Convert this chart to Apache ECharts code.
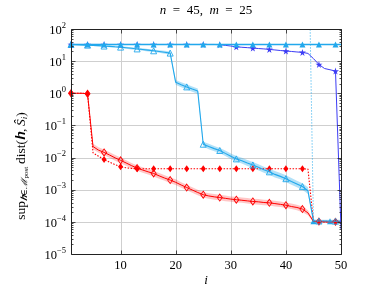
<!DOCTYPE html>
<html><head><meta charset="utf-8">
<script src="https://cdn.jsdelivr.net/npm/echarts@6/dist/echarts.min.js"></script>
<style>html,body{margin:0;padding:0;background:#fff}#c{width:380px;height:291px}</style>
</head><body><div id="c"></div>
<script>
// ---------- data ----------
const iValues = [1,2,3,4,5,6,7,8,9,10,11,12,13,14,15,16,17,18,19,20,21,22,23,24,25,26,27,28,29,30,31,32,33,34,35,36,37,38,39,40,41,42,43,44,45,46,47,48,49,50];
const xTickValues = [10,20,30,40,50];
const yExponents = [-5,-4,-3,-2,-1,0,1,2];

// light blue, filled triangles (flat)
const flatTri = [33,33,33,33,33,33,33,33,33,33,33,33,33,33,33,33,33,33,33,33,33,33,33,33,33,33,33,33,33,33,33,33,33,33,33,33,33,33,33,33,33,33,33,33,33,33,33,33,33,33];
// blue, stars
const starVals = [33,33,33,33,33,33,33,33,33,33,33,33,33,33,33,33,33,33,33,33,33,33,33,33,33,33,33,32.5,31,29.5,28,27,26.3,25.5,24.7,24,23.2,22.3,21.4,20.6,20,19.3,18.7,17.4,12,7.9,5.9,5.4,4.9,0.00006];
// light blue, hollow triangles (mean and band)
const triMean = [33,32.5,32,31.5,31,30.3,29.5,28.8,28,27.3,26.2,25.1,24,23,22,21,20,19,17.8,2.2,1.85,1.58,1.35,1.17,0.026,0.022,0.019,0.0166,0.0135,0.011,0.0091,0.008,0.0068,0.0059,0.005,0.0042,0.0036,0.003,0.0026,0.0022,0.0018,0.0015,0.00125,0.00093,0.000107,0.000106,0.000106,0.000105,0.000105,0.000105];
const triHigh = [34,33.6,33.2,32.8,32.4,31.8,31.2,30.6,29.9,29.2,28.2,27.1,26,25,24,23,22,21,19.8,2.6,2.2,1.9,1.62,1.4,0.031,0.027,0.023,0.02,0.0165,0.0135,0.0112,0.0098,0.0084,0.0073,0.0062,0.0052,0.0045,0.0038,0.0033,0.0028,0.0023,0.0019,0.0016,0.0012,0.000118,0.000116,0.000116,0.000116,0.000116,0.000116];
const triLow = [32,31.4,30.8,30.2,29.6,28.8,27.9,27.1,26.2,25.5,24.3,23.2,22.1,21.1,20.1,19.1,18.1,17.1,16,1.85,1.55,1.32,1.12,0.97,0.022,0.018,0.0157,0.0138,0.0111,0.009,0.0074,0.0065,0.0055,0.0048,0.004,0.0034,0.0029,0.0024,0.0021,0.00175,0.00143,0.00119,0.00099,0.00073,0.000097,0.000095,0.000095,0.000095,0.000095,0.000095];
// red, hollow diamonds (mean and band)
const redMean = [1,1,1,0.97,0.022,0.017,0.0145,0.012,0.0098,0.0082,0.0068,0.0056,0.0047,0.0041,0.0036,0.0032,0.0027,0.0023,0.002,0.0017,0.0014,0.00117,0.00098,0.00082,0.0007,0.00064,0.0006,0.00057,0.00054,0.00051,0.00049,0.00047,0.00045,0.00043,0.00042,0.0004,0.00039,0.00037,0.00035,0.00033,0.0003,0.00028,0.00025,0.00019,0.000104,0.000102,0.000101,0.0001,0.0001,0.0001];
const redHigh = [1.04,1.04,1.04,1.01,0.027,0.021,0.0178,0.0147,0.012,0.01,0.0083,0.0068,0.0057,0.005,0.0044,0.0039,0.0033,0.0028,0.0024,0.0021,0.0017,0.00143,0.0012,0.001,0.00085,0.00078,0.00073,0.0007,0.00066,0.00062,0.0006,0.00057,0.00055,0.00052,0.00051,0.00049,0.00048,0.00045,0.00043,0.0004,0.00037,0.00034,0.0003,0.00023,0.000112,0.00011,0.00011,0.00011,0.00011,0.00011];
const redLow = [0.96,0.96,0.96,0.93,0.018,0.014,0.0119,0.0098,0.008,0.0067,0.0056,0.0046,0.0039,0.0034,0.003,0.0026,0.0022,0.0019,0.0016,0.0014,0.00115,0.00096,0.0008,0.00067,0.00057,0.00052,0.00049,0.00047,0.00044,0.00042,0.0004,0.00039,0.00037,0.00035,0.00034,0.00033,0.00032,0.0003,0.00029,0.00027,0.00025,0.00023,0.0002,0.00016,0.000097,0.000093,0.000093,0.000093,0.000093,0.000093];
// red, dotted, filled diamonds
const redDotted = [1,1,1,0.97,0.014,0.011,0.0087,0.0072,0.006,0.0052,0.0048,0.0046,0.0045,0.0045,0.0045,0.0045,0.0045,0.0045,0.0045,0.0045,0.0045,0.0045,0.0045,0.0045,0.0045,0.0045,0.0045,0.0045,0.0045,0.0045,0.0045,0.0045,0.0045,0.0045,0.0045,0.0045,0.0045,0.0045,0.0045,0.0045,0.0045,0.0045,0.0045,0.0044,0.000102,0.0001,0.0001,0.0001,0.0001,0.0001];
// light blue, dotted (off the chart until i = 44)
const cyanDotted = [1e6,1e6,1e6,1e6,1e6,1e6,1e6,1e6,1e6,1e6,1e6,1e6,1e6,1e6,1e6,1e6,1e6,1e6,1e6,1e6,1e6,1e6,1e6,1e6,1e6,1e6,1e6,1e6,1e6,1e6,1e6,1e6,1e6,1e6,1e6,1e6,1e6,1e6,1e6,1e6,1e6,1e6,1e6,1e6,0.000105,0.000105,0.000105,0.000105,0.000105,0.000105];

// ---------- styles ----------
const C_LB = '#22a8ec';
const C_B = '#3c3cf5';
const C_R = '#ff0000';
const FONT = '"Liberation Serif", "DejaVu Serif", serif';
const STAR = 'path://M50,0 L61,35 L98,35 L68,57 L79,91 L50,70 L21,91 L32,57 L2,35 L39,35 Z';
const X_MIN = 1, X_MAX = 50, Y_MIN = 1e-5, Y_MAX = 100;

function pts(vals, offset) {
  return iValues.map((x, k) => {
    const it = { value: [x, vals[k]] };
    if (((x - offset) % 3 + 3) % 3 !== 0) it.symbol = 'none';
    return it;
  });
}
function bandRender(lo, hi, fill) {
  return function (params, api) {
    const p = [];
    for (let k = 0; k < iValues.length; k++) p.push(api.coord([iValues[k], hi[k]]));
    for (let k = iValues.length - 1; k >= 0; k--) p.push(api.coord([iValues[k], lo[k]]));
    return { type: 'polygon', shape: { points: p }, style: { fill: fill }, silent: true };
  };
}
function px(v) { return Math.round(v) + 0.5; }
function gridRender(params, api) {
  const ch = [];
  const tl = api.coord([X_MIN, Y_MAX]), br = api.coord([X_MAX, Y_MIN]);
  const st = { stroke: '#cfcfcf', lineWidth: 1 };
  xTickValues.forEach(v => {
    const x = px(api.coord([v, Y_MIN])[0]);
    ch.push({ type: 'line', shape: { x1: x, y1: tl[1], x2: x, y2: br[1] }, style: st });
  });
  yExponents.forEach(e => {
    const y = px(api.coord([X_MIN, Math.pow(10, e)])[1]);
    ch.push({ type: 'line', shape: { x1: tl[0], y1: y, x2: br[0], y2: y }, style: st });
  });
  return { type: 'group', children: ch, silent: true };
}
function decorRender(params, api) {
  const ch = [];
  const tl = api.coord([X_MIN, Y_MAX]), br = api.coord([X_MAX, Y_MIN]);
  const x0 = px(tl[0]), x1 = px(br[0]), y0 = px(tl[1]), y1 = px(br[1]);
  const st = { stroke: '#222', lineWidth: 0.8 };
  yExponents.forEach(e => {
    const y = px(api.coord([X_MIN, Math.pow(10, e)])[1]);
    ch.push({ type: 'line', shape: { x1: x0, y1: y, x2: x0 + 4, y2: y }, style: st });
    ch.push({ type: 'line', shape: { x1: x1 - 4, y1: y, x2: x1, y2: y }, style: st });
    if (e < 2) {
      for (let m = 2; m <= 9; m++) {
        const ym = px(api.coord([X_MIN, m * Math.pow(10, e)])[1]);
        ch.push({ type: 'line', shape: { x1: x0, y1: ym, x2: x0 + 2, y2: ym }, style: st });
        ch.push({ type: 'line', shape: { x1: x1 - 2, y1: ym, x2: x1, y2: ym }, style: st });
      }
    }
  });
  xTickValues.forEach(v => {
    const x = px(api.coord([v, Y_MIN])[0]);
    ch.push({ type: 'line', shape: { x1: x, y1: y1, x2: x, y2: y1 - 4 }, style: st });
    ch.push({ type: 'line', shape: { x1: x, y1: y0, x2: x, y2: y0 + 4 }, style: st });
  });
  ch.push({ type: 'rect', shape: { x: x0, y: y0, width: x1 - x0, height: y1 - y0 }, style: { stroke: '#222', lineWidth: 1, fill: null } });
  return { type: 'group', children: ch, silent: true };
}

const chart = echarts.init(document.getElementById('c'), null, { renderer: 'canvas' });
chart.setOption({
  animation: false,
  backgroundColor: '#fff',
  grid: { left: 71, right: 39, top: 29, bottom: 37, containLabel: false },
  xAxis: {
    type: 'value', min: X_MIN, max: X_MAX,
    axisLine: { show: false }, axisTick: { show: false }, splitLine: { show: false },
    axisLabel: { customValues: xTickValues, fontFamily: FONT, fontSize: 12.5, color: '#000', margin: 5 }
  },
  yAxis: {
    type: 'log', logBase: 10, min: Y_MIN, max: Y_MAX,
    axisLine: { show: false }, axisTick: { show: false }, splitLine: { show: false },
    axisLabel: {
      margin: 5, color: '#000',
      formatter: v => '{b|10}{s|' + String(Math.round(Math.log10(v))).replace('-', '\u2212') + '}',
      rich: {
        b: { fontFamily: FONT, fontSize: 12.5, color: '#000', lineHeight: 16, verticalAlign: 'bottom' },
        s: { fontFamily: FONT, fontSize: 8.5, color: '#000', lineHeight: 16, verticalAlign: 'top' }
      }
    }
  },
  graphic: [
    { type: 'text', x: 206, y: 11, silent: true,
      style: { text: '{i|n}\u2002=\u200245,\u2002{i|m}\u2002=\u200225', align: 'center', verticalAlign: 'middle',
        font: '13px ' + FONT, fill: '#000',
        rich: { i: { fontStyle: 'italic', fontFamily: FONT, fontSize: 13 } } } },
    { type: 'text', x: 206, y: 281, silent: true,
      style: { text: 'i', align: 'center', verticalAlign: 'middle', font: 'italic 13px ' + FONT, fill: '#000' } },
    { type: 'text', x: 21, y: 166, rotation: Math.PI / 2, silent: true,
      style: { text: 'sup{sub|\uD835\uDC89\u2208\u2133}{subsub|post}\u2009dist(\uD835\uDC89,\u2009{it|\u015C}{sub|i})',
        align: 'center', verticalAlign: 'middle', font: '13.5px ' + FONT, fill: '#000',
        rich: {
          sub: { fontSize: 9, fontFamily: FONT, verticalAlign: 'bottom', lineHeight: 17, fontStyle: 'italic' },
          subsub: { fontSize: 7, fontFamily: FONT, verticalAlign: 'bottom', lineHeight: 15 },
          it: { fontSize: 13.5, fontFamily: FONT, fontStyle: 'italic', lineHeight: 17 }
        } } }
  ],
  series: [
    { type: 'custom', renderItem: gridRender, data: [[X_MIN, 1]], z: 1, silent: true },
    { type: 'custom', renderItem: bandRender(triLow, triHigh, 'rgba(34,168,236,0.35)'), data: [[X_MIN, 1]], z: 2, silent: true },
    { type: 'custom', renderItem: bandRender(redLow, redHigh, 'rgba(255,0,0,0.22)'), data: [[X_MIN, 1]], z: 2, silent: true },
    { type: 'line', data: pts(cyanDotted, 0), z: 3, symbol: 'triangle', symbolSize: 6,
      lineStyle: { color: C_LB, width: 1, type: [1, 2] }, itemStyle: { color: C_LB } },
    { type: 'line', data: pts(redDotted, 1), z: 3, symbol: 'diamond', symbolSize: [5, 7],
      lineStyle: { color: C_R, width: 1.1, type: [1.5, 1.5] }, itemStyle: { color: C_R } },
    { type: 'line', data: pts(redMean, 1), z: 4, symbol: 'diamond', symbolSize: [5, 7],
      lineStyle: { color: C_R, width: 1 }, itemStyle: { color: 'rgba(255,255,255,0)', borderColor: C_R, borderWidth: 0.9 } },
    { type: 'line', data: pts(triMean, 1), z: 4, symbol: 'triangle', symbolSize: 6,
      lineStyle: { color: C_LB, width: 1.1 }, itemStyle: { color: 'rgba(255,255,255,0)', borderColor: C_LB, borderWidth: 0.9 } },
    { type: 'line', data: pts(starVals, 1), z: 4, symbol: STAR, symbolSize: 7,
      lineStyle: { color: C_B, width: 1 }, itemStyle: { color: C_B } },
    { type: 'line', data: pts(flatTri, 1), z: 5, symbol: 'triangle', symbolSize: 6,
      lineStyle: { color: C_LB, width: 1.3 }, itemStyle: { color: C_LB } },
    { type: 'custom', renderItem: decorRender, data: [[X_MIN, 1]], z: 10, silent: true }
  ]
});
</script>
</body></html>
